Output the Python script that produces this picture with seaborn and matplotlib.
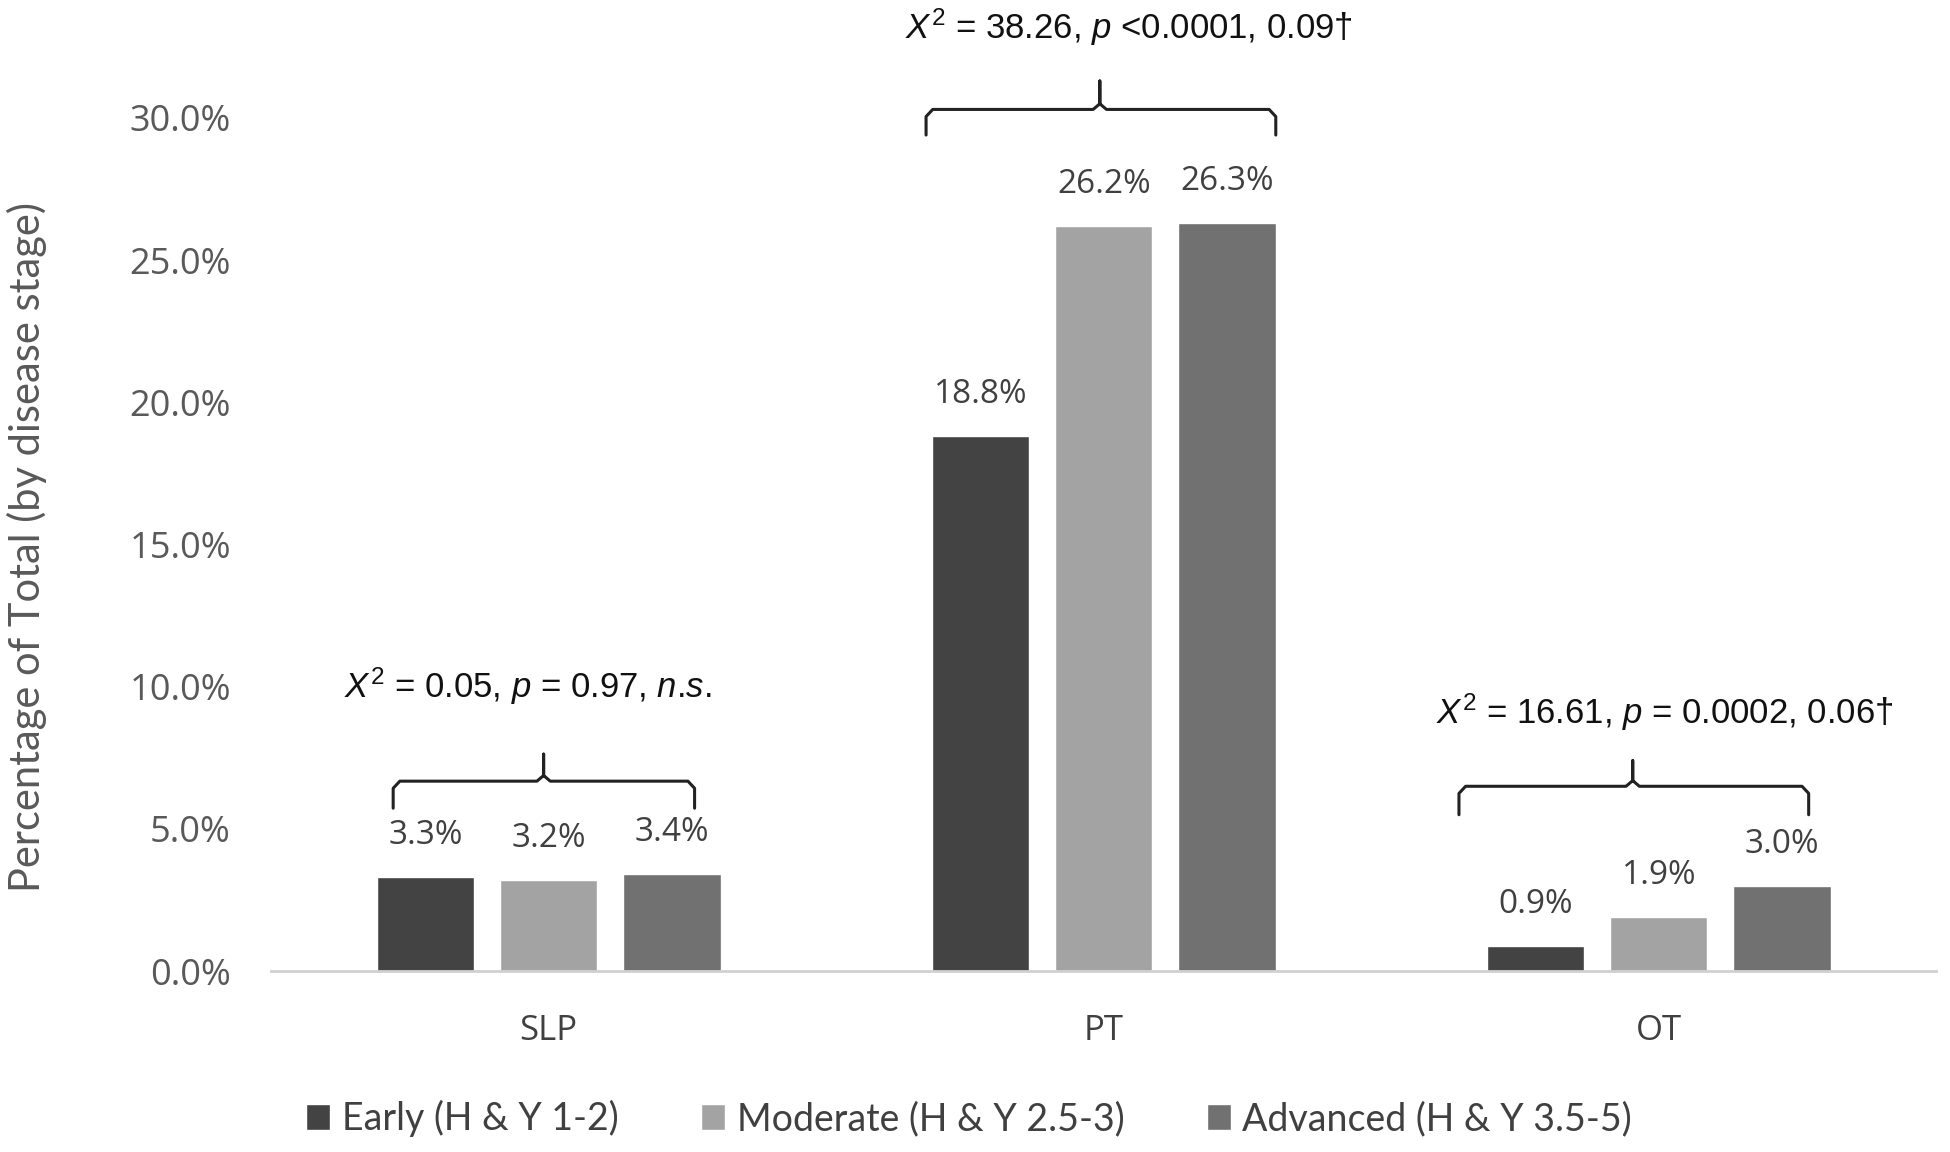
import matplotlib
matplotlib.use("Agg")
import matplotlib.pyplot as plt
import seaborn as sns
import pandas as pd

categories = ["SLP", "PT", "OT"]
stages = ["Early (H & Y 1-2)", "Moderate (H & Y 2.5-3)", "Advanced (H & Y 3.5-5)"]
early = [3.3, 18.8, 0.9]
moderate = [3.2, 26.2, 1.9]
advanced = [3.4, 26.3, 3.0]
yticks = [0, 5, 10, 15, 20, 25, 30]
stats = [
    r"$\mathit{X}^{2}$ = 0.05, $\mathit{p}$ = 0.97, $\mathit{n}$.$\mathit{s}$.",
    r"$\mathit{X}^{2}$ = 38.26, $\mathit{p}$ <0.0001, 0.09†",
    r"$\mathit{X}^{2}$ = 16.61, $\mathit{p}$ = 0.0002, 0.06†",
]

df = pd.DataFrame({
    "category": categories * 3,
    "stage": [stages[0]] * 3 + [stages[1]] * 3 + [stages[2]] * 3,
    "value": early + moderate + advanced,
})

sns.set_style("white")
plt.rcParams["mathtext.fontset"] = "custom"
plt.rcParams["mathtext.rm"] = "Liberation Sans"
plt.rcParams["mathtext.it"] = "Liberation Sans:italic"

colors = ["#434343", "#a3a3a3", "#717171"]

fig = plt.figure(figsize=(19.5, 11.52), dpi=100)
ax = fig.add_axes([0.139, 0.157, 0.854, 0.7406])

sns.barplot(data=df, x="category", y="value", hue="stage", palette=colors,
            width=0.666, gap=0.21, ax=ax, legend=True, saturation=1)

for cont in ax.containers:
    ax.bar_label(cont, labels=[f"{b.get_height():.1f}%" for b in cont],
                 padding=18, fontsize=24, color="#404040", family="Open Sans")

ax.set_ylim(0, 30)
ax.set_xlim(-0.5, 2.5)
ax.set_yticks(yticks)
ax.set_yticklabels([f"{t:.1f}%" for t in yticks], fontsize=26, color="#595959", family="Open Sans")
ax.set_xticks(range(3))
ax.set_xticklabels(categories, fontsize=25, color="#404040", family="Open Sans")
ax.tick_params(axis="both", length=0)
ax.tick_params(axis="x", pad=31)
ax.tick_params(axis="y", pad=29)
ax.set_xlabel("")
ax.set_ylabel("")
for s in ["top", "right", "left"]:
    ax.spines[s].set_visible(False)
ax.spines["bottom"].set_color("#d0d0d0")
ax.spines["bottom"].set_linewidth(2)

fig.text(0.0138, 0.525, "Percentage of Total (by disease stage)", rotation=90,
         ha="center", va="center", fontsize=30, color="#595959", family="Lato")

# brace annotations: x0, x1, tip x, horizontal y, end y, tip y, text x, text y
braces = [
    (-0.28, 0.263, -0.009, 6.68, 5.73, 7.63, -0.038, 10.0),
    (-0.32, 0.31, -0.007, 30.3, 29.4, 31.3, 0.045, 33.2),
    (-0.36, 0.27, -0.047, 6.5, 5.5, 7.4, 0.01, 9.1),
]
for i, (x0, x1, xt, yh, ye, ytip, tx, ty) in enumerate(braces):
    r = 0.012
    rx = 0.25
    xs = [i + x0, i + x0, i + x0 + r, i + xt - r, i + xt, i + xt,
          i + xt, i + xt + r, i + x1 - r, i + x1, i + x1]
    ys = [ye, yh - rx, yh, yh, yh + 0.2, ytip,
          yh + 0.2, yh, yh, yh - rx, ye]
    ax.plot(xs, ys, color="#222222", lw=2.2, clip_on=False, solid_joinstyle="round")
    ax.text(i + tx, ty, stats[i], ha="center", va="center", fontsize=25,
            family="Liberation Sans", color="#111111")

handles, labels = ax.get_legend_handles_labels()
ax.legend_.remove()
leg = fig.legend(handles, labels, loc="center", bbox_to_anchor=(0.497, 0.029), ncol=3,
                 frameon=False, handlelength=0.65, handleheight=0.65, handletextpad=0.3,
                 columnspacing=2.2, prop={"family": "Lato", "size": 27})
for t in leg.get_texts():
    t.set_color("#404040")

fig.savefig("out.png", dpi=100)
